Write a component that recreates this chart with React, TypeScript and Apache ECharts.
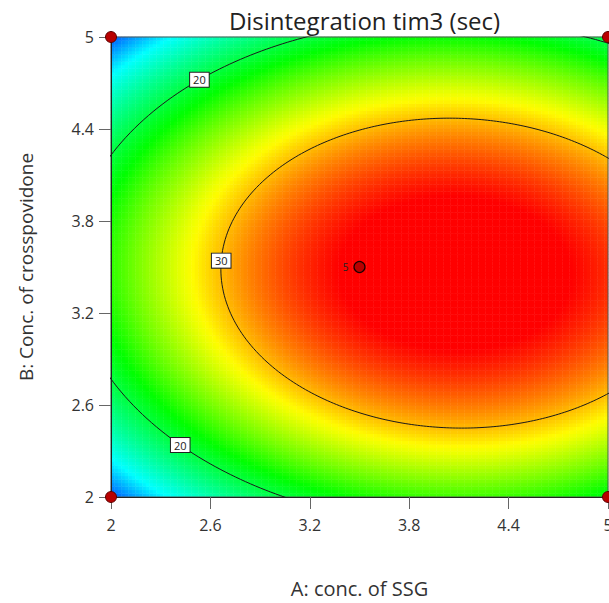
import React, { useEffect, useRef } from "react";
import * as echarts from "echarts";

// ---- data ----
const xTicks = [2, 2.6, 3.2, 3.8, 4.4, 5];
const yTicks = [2, 2.6, 3.2, 3.8, 4.4, 5];
const xRange = [2, 5];
const yRange = [2, 5];

// fitted quadratic response surface (Design-Expert style):
// Y = peak - cA*(A-A0)^2 - cB*(B-B0)^2 - cAB*(A-A0)*(B-B0)
const modelPeak = 35.96;
const modelCentre = [4.08, 3.46];
const modelQuadratic = [2.971, 5.84];
const modelInteraction = 0.222;

const contourLevels = [20, 30];
// contour labels: [level, polar angle (deg) around the optimum]
const contourLabelAngles: [number, number][] = [
  [20, 140.8],
  [20, 214],
  [30, 176.7],
];

const designPoints = [
  [2, 2],
  [2, 5],
  [5, 2],
  [5, 5],
];
const centrePoint = [3.5, 3.5];
const centreReplicates = "5";

// colour stops of the response scale (value -> colour)
const colourStopValues = [8, 14, 22, 28.4, 34.5];
const colourStopColours = ["#0000ff", "#00ffff", "#00ff00", "#ffff00", "#ff0000"];

const titleText = "Disintegration tim3 (sec)";
const xName = "A: conc. of SSG";
const yName = "B: Conc. of crosspovidone";

const FONT = "'Open Sans', 'Noto Sans', sans-serif";

// ---- helpers ----
function response(a: number, b: number) {
  const dA = a - modelCentre[0];
  const dB = b - modelCentre[1];
  return (
    modelPeak -
    modelQuadratic[0] * dA * dA -
    modelQuadratic[1] * dB * dB -
    modelInteraction * dA * dB
  );
}

function contourPoint(level: number, deg: number) {
  const t = (deg * Math.PI) / 180;
  const c = Math.cos(t);
  const s = Math.sin(t);
  const q = modelQuadratic[0] * c * c + modelQuadratic[1] * s * s + modelInteraction * c * s;
  const r = Math.sqrt((modelPeak - level) / q);
  return [modelCentre[0] + r * c, modelCentre[1] + r * s];
}

function hexToRgb(h: string) {
  return [1, 3, 5].map((i) => parseInt(h.slice(i, i + 2), 16));
}

function colourAt(v: number) {
  const vs = colourStopValues;
  if (v <= vs[0]) return colourStopColours[0];
  if (v >= vs[vs.length - 1]) return colourStopColours[vs.length - 1];
  let k = 0;
  while (v > vs[k + 1]) k++;
  const f = (v - vs[k]) / (vs[k + 1] - vs[k]);
  const c0 = hexToRgb(colourStopColours[k]);
  const c1 = hexToRgb(colourStopColours[k + 1]);
  const c = c0.map((x, i) => Math.round(x + (c1[i] - x) * f));
  return `rgb(${c[0]},${c[1]},${c[2]})`;
}

export default function App() {
  const ref = useRef<HTMLDivElement>(null);

  useEffect(() => {
    if (!ref.current) return;
    const chart = echarts.init(ref.current, null, { renderer: "svg" });

    const NA = 142;
    const NB = 131;
    const aCats: string[] = [];
    const bCats: string[] = [];
    for (let i = 0; i < NA; i++) aCats.push(String(i));
    for (let j = 0; j < NB; j++) bCats.push(String(j));
    const heat: number[][] = [];
    for (let i = 0; i < NA; i++) {
      const a = xRange[0] + ((i + 0.5) * (xRange[1] - xRange[0])) / NA;
      for (let j = 0; j < NB; j++) {
        const b = yRange[0] + ((j + 0.5) * (yRange[1] - yRange[0])) / NB;
        heat.push([i, j, response(a, b)]);
      }
    }

    const vMin = 8;
    const vMax = 36;
    const palette: string[] = [];
    for (let v = vMin; v <= vMax + 1e-9; v += 0.5) palette.push(colourAt(v));

    const contourSeries = contourLevels.map((lv) => {
      const pts: number[][] = [];
      for (let d = 0; d <= 360; d += 1) pts.push(contourPoint(lv, d));
      return {
        type: "line",
        xAxisIndex: 1,
        yAxisIndex: 1,
        data: pts,
        showSymbol: false,
        symbol: "none",
        silent: true,
        clip: true,
        z: 6,
        lineStyle: { color: "#1a1a1a", width: 1 },
      };
    });

    const labelData = contourLabelAngles.map(([lv, deg]) => {
      const p = contourPoint(lv, deg);
      return [p[0], p[1], lv];
    });

    const axisLabelBase = {
      fontSize: 16,
      color: "#333",
      fontFamily: FONT,
    };

    const gridBox = { left: 111, top: 37, width: 497, height: 460, outerBoundsMode: "none", containLabel: false };

    const option: any = {
      animation: false,
      backgroundColor: "#fff",
      title: {
        text: titleText,
        left: 359.5,
        top: 3,
        textAlign: "center",
        textStyle: { fontSize: 24, fontWeight: "normal", color: "#222", fontFamily: FONT },
      },
      grid: [
        { ...gridBox },
        {
          ...gridBox,
          show: true,
          z: 5,
          borderColor: "#555",
          borderWidth: 1,
          backgroundColor: "transparent",
        },
      ],
      xAxis: [
        { type: "category", gridIndex: 0, data: aCats, show: false },
        {
          type: "value",
          gridIndex: 1,
          min: xRange[0],
          max: xRange[1],
          z: 6,
          splitLine: { show: false },
          axisLine: { show: true, lineStyle: { color: "#222", width: 1 } },
          axisTick: { show: true, length: 12, customValues: xTicks, lineStyle: { color: "#666" } },
          axisLabel: { ...axisLabelBase, margin: 20, customValues: xTicks, hideOverlap: false },
          name: xName,
          nameLocation: "middle",
          nameGap: 81,
          nameTextStyle: { fontSize: 20, color: "#333", fontFamily: FONT },
        },
      ],
      yAxis: [
        { type: "category", gridIndex: 0, data: bCats, show: false },
        {
          type: "value",
          gridIndex: 1,
          min: yRange[0],
          max: yRange[1],
          z: 6,
          splitLine: { show: false },
          axisLine: { show: true, lineStyle: { color: "#222", width: 1 } },
          axisTick: { show: true, length: 12, customValues: yTicks, lineStyle: { color: "#666" } },
          axisLabel: { ...axisLabelBase, margin: 17, customValues: yTicks, padding: [0, 0, 5, 0] },
          name: yName,
          nameLocation: "middle",
          nameGap: 76,
          nameTextStyle: { fontSize: 19, color: "#333", fontFamily: FONT },
        },
      ],
      visualMap: {
        show: false,
        type: "continuous",
        seriesIndex: 0,
        dimension: 2,
        min: vMin,
        max: vMax,
        inRange: { color: palette },
      },
      series: [
        {
          type: "heatmap",
          xAxisIndex: 0,
          yAxisIndex: 0,
          data: heat,
          progressive: 0,
          silent: true,
          z: 2,
          emphasis: { disabled: true },
        },
        ...contourSeries,
        {
          type: "scatter",
          xAxisIndex: 1,
          yAxisIndex: 1,
          data: designPoints,
          symbolSize: 11,
          clip: false,
          silent: true,
          z: 8,
          itemStyle: { color: "#b80000", borderColor: "#5a0000", borderWidth: 1, opacity: 1 },
        },
        {
          type: "scatter",
          xAxisIndex: 1,
          yAxisIndex: 1,
          data: [centrePoint],
          symbolSize: 11,
          clip: false,
          silent: true,
          z: 8,
          itemStyle: { color: "#b80000", borderColor: "#1a0000", borderWidth: 1.2, opacity: 1 },
          label: {
            show: true,
            position: "left",
            distance: 5,
            formatter: centreReplicates,
            fontSize: 10,
            color: "#222",
            fontFamily: FONT,
          },
        },
        {
          type: "scatter",
          xAxisIndex: 1,
          yAxisIndex: 1,
          data: labelData,
          symbol: "rect",
          symbolSize: 1,
          clip: false,
          silent: true,
          z: 9,
          itemStyle: { color: "rgba(0,0,0,0)", opacity: 1 },
          label: {
            show: true,
            position: "inside",
            formatter: (p: any) => String(p.value[2]),
            backgroundColor: "#ffffff",
            borderColor: "#222",
            borderWidth: 1,
            padding: [2, 3, 1, 3],
            fontSize: 11,
            color: "#222",
            opacity: 1,
            fontFamily: FONT,
          },
        },
      ],
    };

    chart.setOption(option);
    return () => chart.dispose();
  }, []);

  return (
    <div
      ref={ref}
      style={{ position: "fixed", left: 0, top: 0, width: 609, height: 603 }}
    />
  );
}
